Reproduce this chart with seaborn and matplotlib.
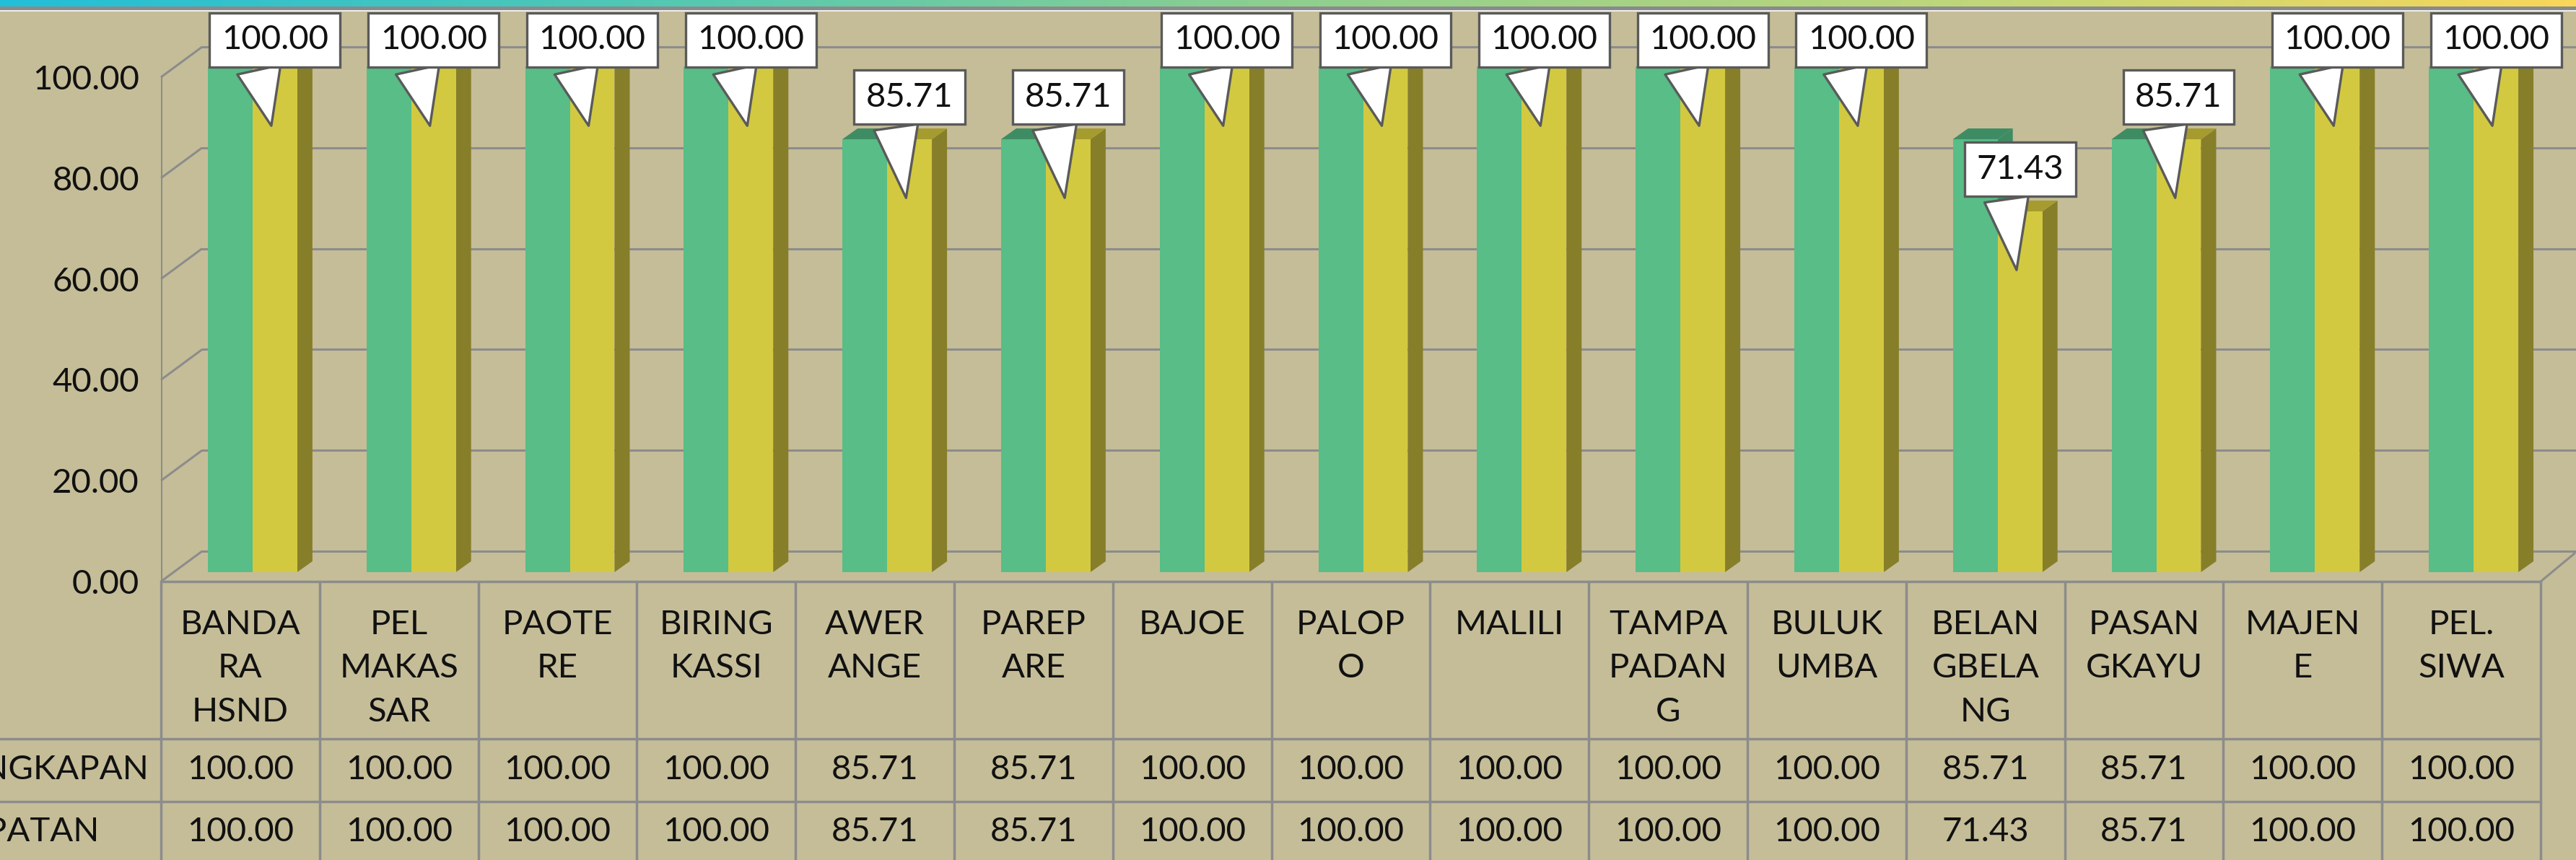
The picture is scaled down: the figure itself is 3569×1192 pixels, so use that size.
import numpy as np
import pandas as pd
import matplotlib
matplotlib.use("Agg")
import matplotlib.pyplot as plt
import seaborn as sns
from matplotlib.colors import LinearSegmentedColormap, to_rgba
from matplotlib.patches import Polygon, Rectangle

# data
lokasi = ["BANDA\nRA\nHSND", "PEL\nMAKAS\nSAR", "PAOTE\nRE", "BIRING\nKASSI",
          "AWER\nANGE", "PAREP\nARE", "BAJOE", "PALOP\nO", "MALILI",
          "TAMPA\nPADAN\nG", "BULUK\nUMBA", "BELAN\nGBELA\nNG", "PASAN\nGKAYU",
          "MAJEN\nE", "PEL.\nSIWA"]
kelengkapan = [100, 100, 100, 100, 85.71, 85.71, 100, 100, 100, 100, 100, 85.71, 85.71, 100, 100]
ketepatan = [100, 100, 100, 100, 85.71, 85.71, 100, 100, 100, 100, 100, 71.43, 85.71, 100, 100]
seri = ["KELENGKAPAN", "KETEPATAN"]
yticks = [0, 20, 40, 60, 80, 100]

W, H = 3569, 1192
BG = "#C5BD98"
GRID = "#8C8C8C"
GREEN, YELLOW = "#58BD86", "#D2C940"
SIDE = {"g": "#3E8C64", "y": "#877E2A"}
TOPC = {"g": "#3E8C64", "y": "#A69B2E"}
FS = 34


def fx(px):
    return px / W


def fy(py):
    return 1 - py / H


sns.set_theme(style="white")
plt.rcParams["font.family"] = ["Lato", "DejaVu Sans"]

fig = plt.figure(figsize=(W / 100, H / 100), dpi=100, facecolor=BG)

X0, X1 = 223, 3520
FLOOR, TOP = 806, 14
col_w = (X1 - X0) / 15
front_px = (806 - 107) / 100  # px per unit on the front wall

# frame axes: walls, gridlines, y labels
axf = fig.add_axes([fx(X0), fy(FLOOR), fx(X1) - fx(X0), (FLOOR - TOP) / H])
axf.set_facecolor("none")
axf.set_xlim(0, 1)
axf.set_ylim(0, (FLOOR - TOP) / front_px)
for s in axf.spines.values():
    s.set_visible(False)
ddx = 57 / (X1 - X0)
ddy = 42 / front_px
for t in yticks:
    axf.plot([0, ddx], [t, t + ddy], color=GRID, lw=2.2, clip_on=False, solid_capstyle="butt")
    axf.plot([ddx, 1.1], [t + ddy, t + ddy], color=GRID, lw=2.2, clip_on=False)
axf.plot([0, 0], [0, 100], color=GRID, lw=2.2)
axf.plot([0, 1], [0, 0], color=GRID, lw=2.5, clip_on=False)
axf.plot([1, 1 + 47 / (X1 - X0)], [0, 39 / front_px], color=GRID, lw=2.2, clip_on=False)
axf.set_xticks([])
axf.set_yticks(yticks, labels=[f"{t:.2f}" for t in yticks])
axf.tick_params(axis="y", length=0, pad=21.6, labelsize=FS, labelcolor="#111111")

# bars axes
axb = fig.add_axes([fx(X0), fy(FLOOR), fx(X1) - fx(X0), (FLOOR - TOP) / H])
axb.set_facecolor("none")
df = pd.DataFrame({
    "lokasi": lokasi * 2,
    "seri": [seri[0]] * len(lokasi) + [seri[1]] * len(lokasi),
    "nilai": kelengkapan + ketepatan,
})
sns.barplot(data=df, x="lokasi", y="nilai", hue="seri", palette=[GREEN, YELLOW],
            width=0.564, saturation=1, legend=False, linewidth=0, zorder=2, ax=axb)
shift = 17 / col_w
axb.set_xlim(-0.5 - shift, 14.5 - shift)
axb.set_ylim(-13 / 7, 779 / 7)
axb.axis("off")

bx = 21 / col_w
by = 15 / 7
yellow_bars = []
for p in list(axb.patches):
    x0, w, h = p.get_x(), p.get_width(), p.get_height()
    key = "g" if np.allclose(p.get_facecolor(), to_rgba(GREEN)) else "y"
    if key == "y":
        yellow_bars.append(p)
    axb.add_patch(Polygon([(x0 + w, 0), (x0 + w + bx, by), (x0 + w + bx, h + by), (x0 + w, h)],
                          closed=True, fc=SIDE[key], ec="none", zorder=1.5))
    axb.add_patch(Polygon([(x0, h), (x0 + bx, h + by), (x0 + w + bx, h + by), (x0 + w, h)],
                          closed=True, fc=TOPC[key], ec="none", zorder=1.5))

# callouts on the yellow bars
yellow_bars.sort(key=lambda r: r.get_x())
for p, v in zip(yellow_bars, ketepatan):
    xc = p.get_x() + p.get_width() / 2
    axb.annotate(f"{v:.2f}", xy=(xc - 0.02, v - 12), xytext=(xc, min(v + 8.3, 105.4)),
                 ha="center", va="center", fontsize=FS, color="#111111", zorder=6,
                 annotation_clip=False,
                 bbox=dict(boxstyle="square,pad=0.35", fc="white", ec="#5A5A5A", lw=2.4),
                 arrowprops=dict(arrowstyle="wedge,tail_width=1.3", relpos=(0.32, 0.0),
                                 fc="white", ec="#5A5A5A", lw=2.4))

# data table
axt = fig.add_axes([0, 0, 1, (H - FLOOR) / H])
axt.set_facecolor("none")
axt.set_xlim(0, W)
axt.set_ylim(H, FLOOR)
axt.axis("off")
for k in range(16):
    xk = X0 + k * col_w
    axt.plot([xk, xk], [FLOOR, H], color=GRID, lw=2.5, clip_on=False)
for yl in [1024, 1111]:
    axt.plot([0, X1], [yl, yl], color=GRID, lw=2.5)
for i, lab in enumerate(lokasi):
    cx = X0 + (i + 0.5) * col_w
    axt.text(cx, 845, lab, ha="center", va="top", fontsize=FS, linespacing=1.54, color="#111111")
    axt.text(cx, 1067, f"{kelengkapan[i]:.2f}", ha="center", va="center", fontsize=FS, color="#111111")
    axt.text(cx, 1153, f"{ketepatan[i]:.2f}", ha="center", va="center", fontsize=FS, color="#111111")
# row headers are cut by the left edge, as in the original
axt.text(207, 1067, seri[0], ha="right", va="center", fontsize=FS, color="#111111")
axt.text(138, 1153, seri[1], ha="right", va="center", fontsize=FS, color="#111111")

# top band
axs = fig.add_axes([0, fy(9), 1, 9 / H], zorder=10)
band = LinearSegmentedColormap.from_list(
    "band", ["#22BFD8", "#52C8B4", "#8ECF8F", "#BCD67C", "#F8D75A"])
axs.imshow(np.linspace(0, 1, 512)[None, :], aspect="auto", cmap=band, extent=[0, 1, 0, 1])
axs.axis("off")
fig.add_artist(Rectangle((0, fy(14)), 1, 5 / H, transform=fig.transFigure,
                         fc="#8A8A8A", ec="none", zorder=20))
fig.add_artist(Rectangle((0, fy(15.5)), 1, 1.5 / H, transform=fig.transFigure,
                         fc="#EEEEEE", ec="none", zorder=20))

fig.savefig("out.png", dpi=100, facecolor=BG)
